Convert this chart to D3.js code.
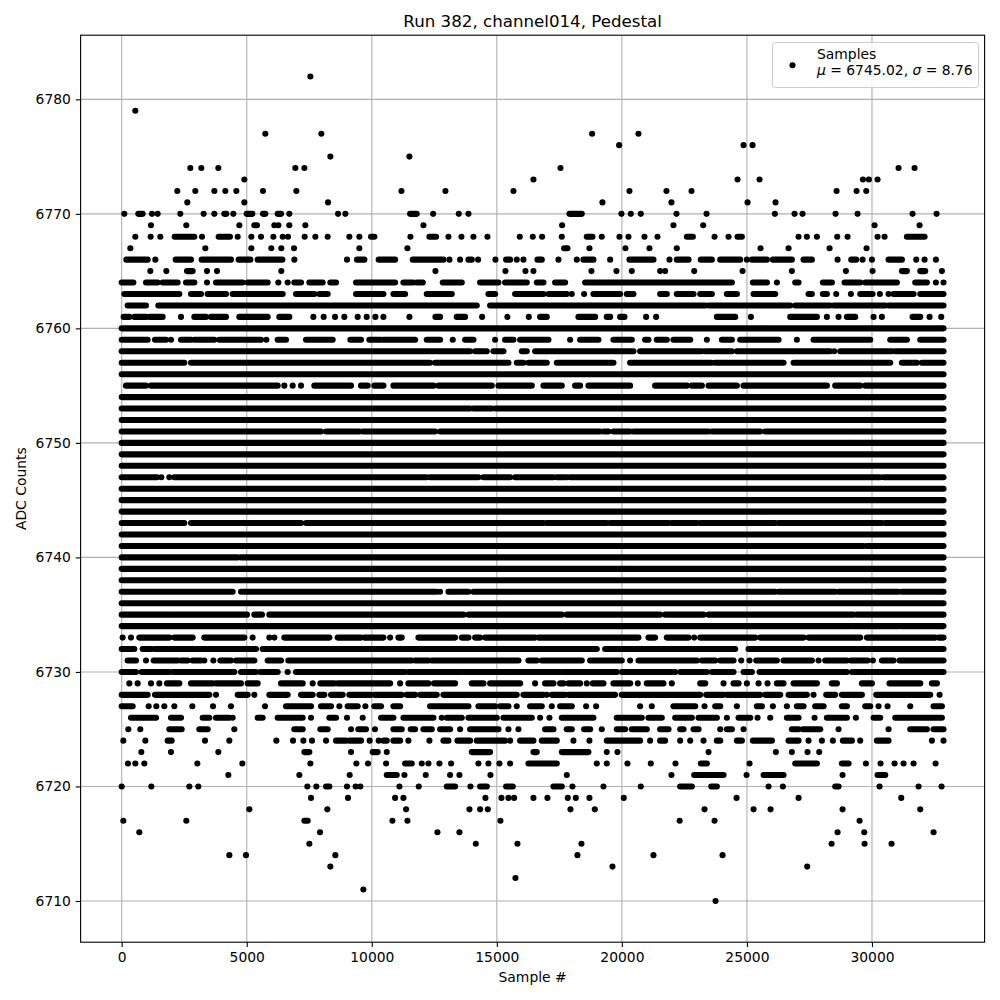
<!DOCTYPE html>
<html><head><meta charset="utf-8">
<script src="https://cdn.jsdelivr.net/npm/d3@7"></script>
<style>body{margin:0;background:#fff}svg{display:block}text{font-family:"DejaVu Sans",sans-serif}</style>
</head><body><svg id="c" width="1000" height="1000"></svg>
<script>
const chartTitle = "Run 382, channel014, Pedestal";
const xLabel = "Sample #";
const yLabel = "ADC Counts";
const xTicks = [0, 5000, 10000, 15000, 20000, 25000, 30000];
const yTicks = [6710, 6720, 6730, 6740, 6750, 6760, 6770, 6780];
const sampleRange = [0, 32860];
const legendLabel = "Samples";
const legendStats = [["μ", "6745.02"], ["σ", "8.76"]];

// ADC level of each row of samples (top to bottom)
const adcLevels = [6782,6781,6780,6779,6778,6777,6776,6775,6774,6773,6772,6771,6770,6769,6768,6767,6766,6765,6764,6763,6762,6761,6760,
6759,6758,6757,6756,6755,6754,6753,6752,6751,6750,6749,6748,6747,6746,6745,6744,6743,6742,6741,6740,6739,6738,6737,6736,6735,6734,6733,6732,6731,6730,
6729,6728,6727,6726,6725,6724,6723,6722,6721,6720,6719,6718,6717,6716,6715,6714,6713,6712,6711,6710];

// sample-number runs where that level occurs ([a] = single sample, [a,b] = dense run)
const sampleRuns = [
[[7543]],
[],
[],
[[545]],
[],
[[5743],[7983],[18810],[20663]],
[[19890],[24865],[25225]],
[[8343],[11505]],
[[2744],[3184],[3864],[6943],[7303],[17544],[31063],[31703]],
[[4904],[16464],[24625],[25504],[29637],[29877],[30223]],
[[2224],[2944],[3704],[4144],[4584],[5650],[6983],[11185],[12945],[15664],[20303],[21782],[22785],[28584],[29384],[29770]],
[[2624],[4904],[8250],[19223],[21982],[25025],[26144]],
[[105],[665,838],[1211],[1438],[2344],[3277],[3704],[4104,4184],[4464],[4997,5224],[5650,5743],[6237,6370],[6703],[8650],[8943],[11532,11798],[12452],[13478],[13865],[17904,18397],[19983],[20356],[20756],[22183],[23385],[26118],[26904],[27224],[28544],[29424],[31623],[32583]],
[[1171],[2584],[4704],[5304,5410],[6104],[6264],[6703],[7343],[12065],[17610],[22062],[23252],[30103],[31903]],
[[545],[1158],[1545],[2118,2904],[3211],[3877,4330],[4637],[5184],[5570],[6064],[6437],[6650],[7316],[7743],[8236],[9103],[9503],[9970,10103],[11545],[12305,12571],[13065],[13585],[14064],[14624],[15917],[16437],[16810],[17597],[18597,18823],[19196],[19903],[20263],[20903],[21423],[22598,22838],[23705],[24265],[24625,24798],[27064],[27397],[27797],[28610],[29024],[30223],[30503],[31396,32103]],
[[345],[3344],[5184],[5983],[6383],[6890],[9503],[11425],[17690,17824],[18703],[20143],[21103],[22196],[25545],[26664],[28304],[29783]],
[[185,1038],[1345],[2158,2771],[3197,4370],[4677,5144],[5437,6424],[6903],[9009],[9409,9703],[10276,10932],[11638,12865],[13105],[13531],[13865,13998],[14251],[14944],[15371,15531],[15797],[16064],[16624,16797],[17464],[18197],[18463,18863],[19530],[20303,21263],[21903],[22196,22665],[23158,23598],[23932,24732],[24998],[25198,25798],[26038,26797],[27264,27597],[28624],[29170,29370],[29624],[29997],[30663,31196],[31770],[32103],[32556]],
[[1145],[1785],[2611,2838],[3411],[3811],[6383],[12545],[15344],[16144],[16464],[18783],[19783],[20396],[21529],[21729],[22892],[24825],[26797],[28957],[30023],[31196,31396],[31930,32130],[32796]],
[[0,465],[971,1438],[1638,2238],[2571,2904],[3411],[3771,4837],[5037,5837],[6263],[6637],[6903,7170],[7503,8036],[8343,8570],[9370,10932],[11265,11665],[11798,12038],[12838,13598],[14331,15064],[15331,16197],[16597,16864],[17330,17730],[18530,24398],[25238,25798],[26198],[26931,27064],[28037,28397],[28904,29530],[29730,30996],[31730,32196],[32556],[32860]],
[[105,2304],[2771,3171],[3437,4170],[4437,6437],[6970,7703],[7903,8236],[9370,10465],[10865,11332],[12198,13198],[14664,14931],[15731,16864],[17064,17797],[17997],[18490],[18863,19930],[20196,20463],[21529,21796],[22196,22865],[23132,23598],[24198,24598],[25265,26131],[27464,27597],[28037,28197],[28570],[29157],[29530,30023],[30316],[30663],[30863,31663],[31930,32860]],
[[238,972],[1465,14198],[14731,23332],[23465,26731],[26931,28330],[28464,30530],[30663,32860]],
[[78,305],[505,972],[1105,1638],[2371],[2904,3371],[3571,4170],[4704,5837],[6303,6703],[7663],[8076],[8530],[8903],[9436],[9796],[10143],[10465],[11505],[12545,12731],[13398,13731],[14411],[15424],[16277],[16730,16997],[18263,18930],[19396,19530],[19930,20103],[20969],[21369],[23798,24532],[25158],[26731,27797],[28197],[28664],[28997,29330],[30063],[30396],[31623,31930],[32303],[32770]],
[[0,32860]],
[[0,1038],[1331,1771],[1971],[2371,2771],[2904,3704],[3904,5570],[5784],[6237,6570],[7370,8436],[9143,9570],[9903,10370],[10465,11732],[12198,12731],[13238],[13731,14064],[14931],[15331,15664],[15931,17064],[17930],[18330,19063],[19663,20396],[20929,21063],[21396,21796],[22062,22732],[23398],[23998,24398],[24732,26264],[26997],[27664,29930],[30730,31396],[31930,32860]],
[[0,13931],[14131,14598],[14864,15264],[16000,16197],[16530,20463],[20729,23198],[23332,24398],[24598,28330],[28490],[28730,30796],[30930,32860]],
[[0,2504],[2771,12332],[12531,15464],[15797,16064],[16264,16997],[17397,19663],[20329,23598],[23732,26464],[26864,30730],[31196,31796],[31996,32860]],
[[0,32860]],
[[171,972],[1171,6237],[6503],[6837],[7170],[7703,9170],[9570,9836],[10103,10465],[10865,12465],[12665,14798],[15064,16397],[16864,17597],[18130,18330],[18663,20329],[21329,22598],[22798,23198],[23465,24598],[24865,28197],[28530,29530],[29730,32860]],
[[0,32860]],
[[0,13931],[14064,14798],[14931,32860]],
[[0,32860]],
[[0,7970],[8170,9503],[9636,12531],[12731,19130],[19263,19463],[19663,20329],[20463,23465],[23598,25531],[25731,29264],[29330,32860]],
[[0,32860]],
[[0,32860]],
[[0,32860]],
[[0,1411],[1585],[1905],[2104,12198],[12332,14264],[14464,15531],[15731,17264],[17397,17797],[17930,30330],[30463,32860]],
[[0,32860]],
[[0,32860]],
[[0,32860]],
[[0,2504],[2771,7170],[7370,16864],[16997,19396],[19530,21863],[21996,22998],[23132,26131],[26264,30396],[30530,32860]],
[[0,32860]],
[[0,5237],[5304,29663],[29797,32860]],
[[0,4637],[4770,32860]],
[[0,20596],[20663,32860]],
[[0,32860]],
[[0,4437],[4770,12598],[12731],[13064,13865],[14064,26131],[26264,28530],[28664,29997],[30130,31063],[31196,32860]],
[[0,32860]],
[[0,1945],[2038,5010],[5304,5610],[5904,13665],[13865,17597],[17797,21529],[21729,23265],[23465,29264],[29397,32860]],
[[0,29130],[29197,31063],[31130,32860]],
[[38],[371],[705,1905],[2104,2838],[3304,4904],[5237],[5904],[6104],[6503,8303],[8636,9570],[9703,10465],[10732],[11065,11198],[11865,13331],[13598,13865],[14131,14331],[14531,16530],[16664,19596],[19663,20663],[21063,21329],[21796,22665],[22892],[23132,25331],[25531,27264],[27464,29530],[29797,32530],[32663,32860]],
[[0,505],[838,1171],[1305,5372],[5637,18997],[19330,24532],[25065,32860]],
[[238,572],[972],[1278,2238],[2371,2638],[2838,3171],[3305],[3665],[3945,4370],[4570,5305],[5837,6370],[6663,11598],[11731,12265],[12398,15864],[16264,16597],[16797,18397],[18730,19996],[20329],[20663,22998],[23198,23732],[23932,24465],[24772],[25105],[25371,26198],[26464,27597],[27864],[28130,28997],[29157,29823],[30037],[30396,30863],[31103,32860]],
[[0,572],[798,1905],[2038,4504],[4770,5370],[5544,6237],[6637],[6970,11332],[11465,13531],[13638,15531],[15598,17530],[17637,19796],[19996,21996],[22130],[22332,23398],[23598,24465],[24865,25198],[25505,28997],[29198,32860]],
[[305],[638],[1172],[1505],[1811,2304],[2771,3638],[3771,4770],[5037,5437],[6370,7237],[7637],[7944,8503],[8636,10732],[11132],[11465,12265],[12491,13331],[13998,14464],[14731,15931],[16530],[16930,17264],[17530,17664],[17864,18330],[18597],[18837,19263],[19663,20329],[20636],[20996,21663],[21996],[23132,23332],[24065],[24465,24665],[24998],[25465],[25824],[26198,26464],[26864,27797],[28397,28597],[29597,29997],[30703,31930],[32396,32596]],
[[0,1038],[1332,3505],[3771],[4637,5037],[5304],[5904,6637],[7170,7637],[7903,8103],[8370,8836],[9103,9969],[10103,11198],[11398,11731],[11931,12598],[12865,15797],[16064,16864],[16997],[17197,17730],[17864,19730],[19996,23132],[23372,24065],[24198,25531],[25731,26331],[26664,27397],[27664],[28170,28530],[28797,29597],[30170,32330],[32703]],
[[0,438],[1078],[1385],[1705],[2105],[2825],[3651],[4370],[5731],[6570,7570],[7970,8370],[8703],[9036,9436],[9743],[10103,10370],[10865,11132],[12332,13865],[14264,14931],[15131,15464],[15797],[16330,16797],[17197],[17530,17997],[18570],[18970],[20729],[21196],[22062,22932],[23305],[23732,23932],[24598],[25398,25598],[26038],[26597],[26997,27264],[27730,28064],[28797,28997],[29730,29930],[30263],[30623],[31530],[32463,32796]],
[[372,838],[905,1372],[1972,2371],[3238,3505],[3771,4304],[4437],[5437,5637],[6237,7237],[7571],[8303,8570],[9009],[9636],[10370,10865],[11265,12465],[12798],[12998,13598],[13865,14998],[15264,16397],[16730],[17104],[17597,18863],[19796,20796],[21063,21596],[22130,22798],[23065,23798],[24198],[24665,25131],[25425],[25931],[26597,27064],[27704],[28197,28997],[29357],[30063,30330],[30930,32796]],
[[265],[745],[1905,2398],[3105,3438],[4504],[6903,7237],[7944,8236],[9170],[9463,9769],[10129],[10865,11198],[11558,11731],[12065,12398],[12731,13131],[13531],[13931,15064],[15464],[15864],[16930,17264],[17797,17997],[18490,18730],[19196],[19796,20129],[20396,20996],[21529,21863],[22332,22465],[22865,23065],[23932],[24198,24398],[24865],[26797,27064],[27237,27930],[28664],[30663],[31530,32196],[32463,32860]],
[[65],[945],[1838,1998],[3331],[4304],[6184],[6850],[7264],[7610],[8170],[8570,8970],[9103,9570],[9916],[10276],[10465,10599],[10865,11132],[11465],[12305],[12865,13065],[13425,13931],[14198,15331],[15531],[15931,16464],[16797,17397],[18063],[18703],[19396,20729],[21129],[21529,21729],[22330],[22732],[23265],[23798,23932],[24598,24798],[25238,25998],[26664,27064],[27464],[27997],[28437],[28837,29198],[29530],[30196,30663],[32396],[32860]],
[[785],[1971],[3864],[7304,7504],[9170],[10036,10236],[10599],[13998,14731],[16464,16597],[17597,18663],[19396],[19823],[23465],[26157],[26797],[27424],[27890]],
[[252],[545],[905],[3025],[4824],[7544],[9383],[9849],[10572],[11332,11598],[11998],[12265],[12705],[13171],[14264],[14664],[15104],[15531],[16264,17397],[18997],[19396],[20223],[21156],[22143],[23158,23398],[25105],[26931,27797],[28797,29064],[29757],[30343],[30903],[31263],[31663],[32543]],
[[4264],[7104],[9116],[10599,10998],[11305],[12158],[13131],[13505],[14744],[17797],[21982],[22892,24065],[24985],[25665,26464],[28824],[30223,30530]],
[[0],[1185],[2704],[3064],[7424],[7784],[8170,8303],[9009],[9356],[9543],[11105],[11878],[12998,13331],[13945],[14331,14598],[15371,15637],[17264,17597],[18023],[19263],[20756],[22330,22798],[23572,23798],[25865],[26437],[28530,28664],[30303],[31863],[32783]],
[[7570],[9049],[10932],[11265],[14544],[15184],[15464],[15691],[16464],[17024],[17837],[18157],[18703],[20076],[24585],[27064],[31170]],
[[5104],[8223],[11372],[13905],[14331],[14638],[17944],[18917],[23305],[25265],[25945],[28824],[31930]],
[[65],[2584],[7304,7437],[10825],[11425],[15144],[22310],[23705],[29504]],
[[705],[7930],[12625],[13505],[28624],[29690],[32463]],
[[7504],[14158],[15824],[18383],[28384],[29704],[30783]],
[[4304],[4970],[8543],[18223],[21263],[24025]],
[[8343],[19623],[27410]],
[[15744]],
[[9663]],
[[23745]]
];

// ---------- drawing ----------
const svg = d3.select("#c");
const box = {l: 80.6, r: 984.6, t: 35.2, b: 942.2};
const fs = 13.89, tickLen = 4.86, tickPad = 4.86;
const xPad = (sampleRange[1] - sampleRange[0]) * 0.05;
const x = d3.scaleLinear().domain([sampleRange[0] - xPad, sampleRange[1] + xPad]).range([box.l, box.r]);
const yLo = d3.min(adcLevels), yHi = d3.max(adcLevels), yPad = (yHi - yLo) * 0.05;
const y = d3.scaleLinear().domain([yLo - yPad, yHi + yPad]).range([box.b, box.t]);

svg.append("rect").attr("width", 1000).attr("height", 1000).attr("fill", "#fff");

// grid
const grid = svg.append("g").attr("stroke", "#b0b0b0").attr("stroke-width", 1.1);
grid.selectAll("line.gx").data(xTicks).join("line").attr("class","gx")
  .attr("x1", d => x(d)).attr("x2", d => x(d)).attr("y1", box.t).attr("y2", box.b);
grid.selectAll("line.gy").data(yTicks).join("line").attr("class","gy")
  .attr("y1", d => y(d)).attr("y2", d => y(d)).attr("x1", box.l).attr("x2", box.r);

// samples
const R = 3.05;
const rows = adcLevels.map((lv, i) => ({lv, runs: sampleRuns[i]}));
const pts = svg.append("g").attr("fill", "#000").attr("stroke", "#000");
rows.forEach(row => {
  const yy = y(row.lv);
  row.runs.forEach(run => {
    const a = run[0], b = run.length > 1 ? run[1] : run[0];
    if (b > a) {
      pts.append("line").attr("x1", x(a)).attr("x2", x(b)).attr("y1", yy).attr("y2", yy)
        .attr("stroke-width", 2 * R).attr("stroke-linecap", "round");
    } else {
      pts.append("circle").attr("cx", x(a)).attr("cy", yy).attr("r", R).attr("stroke", "none");
    }
  });
});

// axes
const xAxis = d3.axisBottom(x).tickValues(xTicks).tickFormat(d3.format("d")).tickSize(tickLen).tickPadding(tickPad);
const yAxis = d3.axisLeft(y).tickValues(yTicks).tickFormat(d3.format("d")).tickSize(tickLen).tickPadding(tickPad);
const gx = svg.append("g").attr("transform", `translate(0,${box.b})`).call(xAxis);
const gy = svg.append("g").attr("transform", `translate(${box.l},0)`).call(yAxis);
[gx, gy].forEach(g => {
  g.select(".domain").remove();
  g.selectAll("line").attr("stroke", "#000").attr("stroke-width", 1.1);
  g.selectAll("text").attr("font-family", "DejaVu Sans").attr("font-size", fs).attr("fill", "#000");
});

svg.append("rect").attr("x", box.l).attr("y", box.t).attr("width", box.r - box.l).attr("height", box.b - box.t)
  .attr("fill", "none").attr("stroke", "#000").attr("stroke-width", 1.1);

// titles
const cx = (box.l + box.r) / 2;
svg.append("text").attr("x", cx).attr("y", 27).attr("text-anchor", "middle")
  .attr("font-size", 16.67).text(chartTitle);
svg.append("text").attr("x", cx).attr("y", 982).attr("text-anchor", "middle")
  .attr("font-size", fs).text(xLabel);
svg.append("text").attr("transform", `translate(26,${(box.t + box.b) / 2}) rotate(-90)`)
  .attr("text-anchor", "middle").attr("font-size", fs).text(yLabel);

// legend
const lg = svg.append("g");
lg.append("rect").attr("x", 772.5).attr("y", 42.5).attr("width", 206).attr("height", 45).attr("rx", 3)
  .attr("fill", "#fff").attr("fill-opacity", 0.8).attr("stroke", "#cccccc").attr("stroke-width", 1);
lg.append("circle").attr("cx", 792.5).attr("cy", 65.3).attr("r", R).attr("fill", "#000");
lg.append("text").attr("x", 817).attr("y", 58.7).attr("font-size", fs).text(legendLabel);
const t2 = lg.append("text").attr("x", 817).attr("y", 75).attr("font-size", fs);
legendStats.forEach((s, i) => {
  t2.append("tspan").attr("font-style", "italic").text(s[0]);
  t2.append("tspan").text(" = " + s[1] + (i < legendStats.length - 1 ? ", " : ""));
});
</script></body></html>
